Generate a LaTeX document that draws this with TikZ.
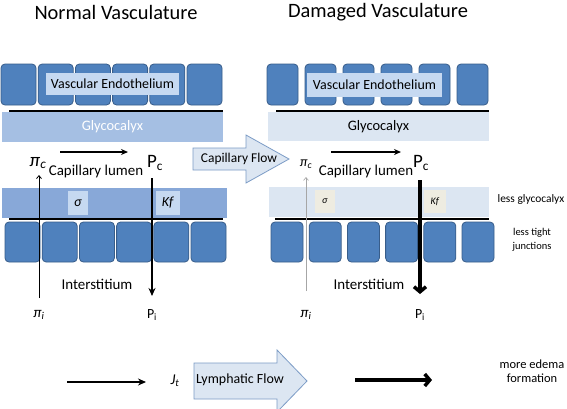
\documentclass[tikz,border=0pt]{standalone}
\usepackage{fontspec}
\setmainfont{Carlito}
\usepackage{amsmath}
\usetikzlibrary{
    arrows.meta,
    positioning,
    calc
}

\begin{document}
\begin{tikzpicture}[x=1bp,y=-1bp,
        cell/.style={fill=cellcolor,draw=celledge,line width=0.8bp,rounded corners=4bp},
        tagbox/.style={inner sep=0pt,minimum width=#1,minimum height=22bp},
        lbl/.style={inner sep=0pt,font=\fontsize{15}{17}\selectfont},
        small/.style={inner sep=0pt,align=center,font=\fontsize{12.5}{14}\selectfont},
        sym/.style={inner sep=0pt,font=\fontsize{#1}{#1}\selectfont},
        flowarrow/.style={fill=flowcolor,draw=flowedge,line width=0.8bp}
    ]
    \definecolor{cellcolor}{HTML}{4F81BD}
    \definecolor{celledge}{HTML}{385D8A}
    \definecolor{glycocolor}{HTML}{A5BFE3}
    \definecolor{midcolor}{HTML}{88A8D8}
    \definecolor{tagcolor}{HTML}{C6D9F1}
    \definecolor{palecolor}{HTML}{DCE6F2}
    \definecolor{beigecolor}{HTML}{EEECE1}
    \definecolor{flowcolor}{HTML}{DCE6F2}
    \definecolor{flowedge}{HTML}{7C9CC6}
    \clip (0,0) rectangle (567,408);
    \fill[white] (0,0) rectangle (567,408);

    % titles
    \node[sym=20.5] (titleN) at (116,12) {Normal Vasculature};
    \node[sym=20.5] (titleD) at (378,12) {Damaged Vasculature};

    % normal vasculature
    \foreach \i in {0,...,5}
        \draw[cell] ({1+37.2*\i},64) rectangle ++(35,41);
    \node[tagbox=133bp,fill=tagcolor,font=\fontsize{14}{16}\selectfont] (endoN) at (112.5,84) {Vascular Endothelium};
    \draw[line width=1.5bp] (9,111) -- (223,111);
    \node[inner sep=0pt,minimum width=221bp,minimum height=30bp,fill=glycocolor,text=white,
        font=\fontsize{14.5}{16}\selectfont] (glycoN) at (112.5,127) {Glycocalyx};
    \fill[midcolor] (2,188) rectangle (227,218);
    \node[tagbox=20bp,minimum height=24bp,fill=tagcolor,font=\fontsize{14}{15}\selectfont] (sigmaN) at (78,203) {\textit{σ}};
    \node[tagbox=24bp,minimum height=24bp,fill=tagcolor,font=\fontsize{14}{15}\selectfont] (kfN) at (168,203) {\textit{Kf}};
    \draw[line width=1.5bp] (9,219) -- (223,219);
    \foreach \i in {0,...,5}
        \draw[cell] ({5+37.2*\i},222) rectangle ++(35,40);

    \node[sym=19] (picN) at (38,163) {\textit{π}\textsubscript{\textit{c}}};
    \node[lbl] (lumenN) at (96,172) {Capillary lumen};
    \node[sym=19] (pcN) at (155,163) {P\textsubscript{c}};
    \node[lbl] (interN) at (97,284) {Interstitium};
    \node[sym=15] (piiN) at (39,315) {\textit{π}\textsubscript{\textit{i}}};
    \node[sym=14] (piN) at (152,315) {P\textsubscript{i}};
    \coordinate (flowNa) at (60,152);
    \coordinate (flowNb) at (128,152);
    \draw[line width=1.2bp,-{Stealth[length=7bp,width=6bp]}] (flowNa) -- (flowNb);
    \draw[line width=0.8bp,-{Straight Barb[length=3bp,width=5bp]}] ($(piiN)+(0,-17)$) -- ($(piiN |- picN)+(0,12)$);
    \draw[line width=1.2bp,-{Stealth[length=8bp,width=7bp]}] ($(piN |- pcN)+(0,15)$) -- ($(piN)+(0,-19)$);

    % capillary flow
    \draw[flowarrow] (193,148) -- (246,148) -- (246,135) -- (289,159) -- (246,183) -- (246,170) -- (193,170) -- cycle;
    \node[sym=13.5] (capflow) at (239,159) {Capillary Flow};

    % damaged vasculature
    \foreach \i in {0,...,5}
        \draw[cell] ({267+38*\i},64) rectangle ++(31,41);
    \node[tagbox=135bp,minimum height=24bp,fill=tagcolor,font=\fontsize{14}{16}\selectfont] (endoD) at (374.5,85) {Vascular Endothelium};
    \draw[line width=1.5bp] (276,111) -- (489,111);
    \node[inner sep=0pt,minimum width=221bp,minimum height=29bp,fill=palecolor,
        font=\fontsize{14.5}{16}\selectfont] (glycoD) at (378.5,126.5) {Glycocalyx};
    \fill[palecolor] (269,187) rectangle (489,217);
    \node[tagbox=20bp,minimum height=23bp,fill=beigecolor,font=\fontsize{10}{11}\selectfont] (sigmaD) at (325,201.5) {\textit{σ}};
    \node[tagbox=22bp,minimum height=23bp,fill=beigecolor,font=\fontsize{10}{11}\selectfont] (kfD) at (435,201.5) {\textit{Kf}};
    \draw[line width=1.5bp] (275,219) -- (489,219);
    \foreach \i in {0,...,5}
        \draw[cell] ({271+38.2*\i},222) rectangle ++(32,40);

    \node[sym=14] (picD) at (306,164) {\textit{π}\textsubscript{\textit{c}}};
    \node[lbl] (lumenD) at (366,172) {Capillary lumen};
    \node[sym=19] (pcD) at (421,163) {P\textsubscript{c}};
    \node[lbl] (interD) at (369,284) {Interstitium};
    \node[sym=15] (piiD) at (306,315) {\textit{π}\textsubscript{\textit{i}}};
    \node[sym=14] (piD) at (420,315) {P\textsubscript{i}};
    \coordinate (flowDa) at (331,152);
    \coordinate (flowDb) at (401,152);
    \draw[line width=1.2bp,-{Stealth[length=7bp,width=6bp]}] (flowDa) -- (flowDb);
    \draw[gray!70,line width=0.6bp,-{Straight Barb[length=3bp,width=5bp]}] ($(piiD)+(0,-24)$) -- ($(piiD |- picD)+(0,13)$);
    \draw[line width=3.5bp,-{Straight Barb[length=5bp,width=12bp]}] ($(piD |- pcD)+(0,17)$) -- ($(piD)+(0,-21)$);

    \node[sym=11.5] (lessglyco) at (531,199) {less glycocalyx};
    \node[small,font=\fontsize{10.5}{14}\selectfont] (lesstight) at (532,240) {less tight\\junctions};

    % lymphatic flow
    \coordinate (lymphA) at (67,382);
    \coordinate (lymphB) at (146,382);
    \draw[line width=1.5bp,-{Stealth[length=8bp,width=7bp]}] (lymphA) -- (lymphB);
    \node[sym=15] (jt) at (175,381) {\textit{J}\textsubscript{\textit{t}}};
    \draw[flowarrow] (194,363) -- (277,363) -- (277,350) -- (307,381) -- (277,412) -- (277,399) -- (194,399) -- cycle;
    \node[sym=14] (lymph) at (240,380) {Lymphatic Flow};
    \coordinate (edemaA) at (355,380);
    \coordinate (edemaB) at (432,380);
    \draw[line width=3.5bp,-{Straight Barb[length=5bp,width=12bp]}] (edemaA) -- (edemaB);
    \node[small] (edema) at (532,371) {more edema\\formation};
\end{tikzpicture}
\end{document}
